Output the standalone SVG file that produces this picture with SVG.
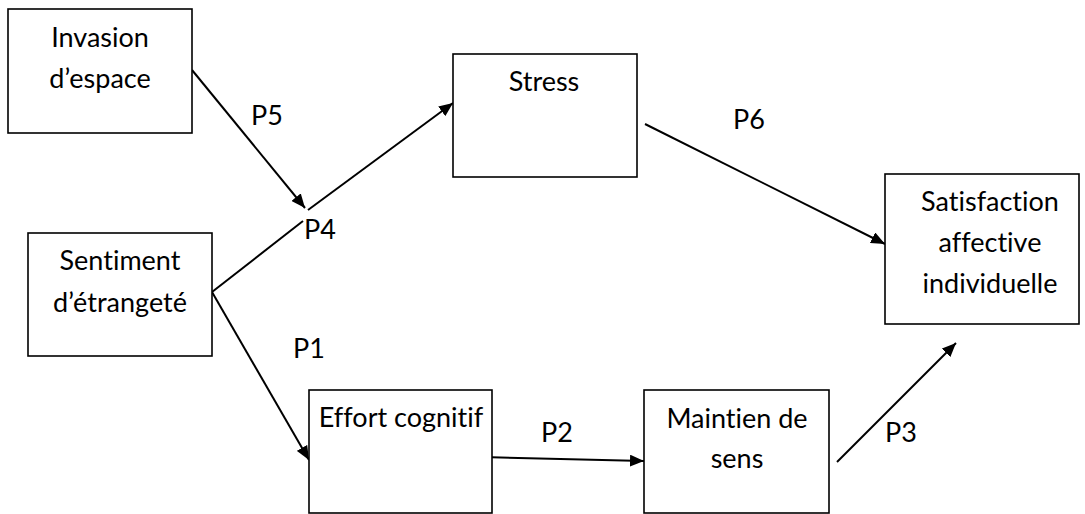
<svg xmlns="http://www.w3.org/2000/svg" width="1085" height="514" viewBox="0 0 1085 514">
<style>
.b{fill:#fff;stroke:#000;stroke-width:1.6}
text{font-family:Lato,"Open Sans",sans-serif;font-size:27px;fill:#000;font-variant-ligatures:none;font-feature-settings:"liga" 0,"dlig" 0}
.c{text-anchor:middle}
.l{fill:none;stroke:#000;stroke-width:2}
</style>
<defs>
<marker id="ah" viewBox="0 0 14 12" refX="14" refY="6" markerWidth="14" markerHeight="12" markerUnits="userSpaceOnUse" orient="auto">
<path d="M0,0 L14,6 L0,12 z" fill="#000"/>
</marker>
</defs>
<rect width="1085" height="514" fill="#fff"/>
<g id="connectors">
<line class="l" x1="192" y1="70" x2="305" y2="208" marker-end="url(#ah)"/>
<line class="l" x1="212" y1="292" x2="303" y2="221"/>
<line class="l" x1="308" y1="210" x2="453" y2="103" marker-end="url(#ah)"/>
<line class="l" x1="645" y1="124" x2="885" y2="244" marker-end="url(#ah)"/>
<line class="l" x1="212" y1="292" x2="309" y2="460" marker-end="url(#ah)"/>
<line class="l" x1="482" y1="457" x2="644" y2="461" marker-end="url(#ah)"/>
<line class="l" x1="837" y1="462" x2="956" y2="343" marker-end="url(#ah)"/>
</g>
<g id="invasion"><rect class="b" x="8" y="9" width="184" height="124"/><text class="c" x="100" y="47">Invasion</text><text class="c" x="100" y="88">d’espace</text></g>
<g id="sentiment"><rect class="b" x="28" y="233" width="184" height="123"/><text class="c" x="120" y="270">Sentiment</text><text class="c" x="120" y="312">d’étrangeté</text></g>
<g id="stress"><rect class="b" x="453" y="54" width="184" height="123"/><text class="c" x="544" y="91">Stress</text></g>
<g id="satisfaction"><rect class="b" x="885" y="174" width="194" height="150"/><text class="c" x="990" y="211">Satisfaction</text><text class="c" x="990" y="252">affective</text><text class="c" x="990" y="293">individuelle</text></g>
<g id="effort"><rect class="b" x="309" y="390" width="183" height="123"/><text class="c" x="401" y="427">Effort cognitif</text></g>
<g id="maintien"><rect class="b" x="644" y="390" width="185" height="123"/><text class="c" x="737" y="428">Maintien de</text><text class="c" x="737" y="468">sens</text></g>
<g id="labels">
<text x="251" y="125">P5</text>
<text x="304" y="239">P4</text>
<text x="293" y="358">P1</text>
<text x="733" y="129">P6</text>
<text x="541" y="442">P2</text>
<text x="885" y="442">P3</text>
</g>
</svg>
